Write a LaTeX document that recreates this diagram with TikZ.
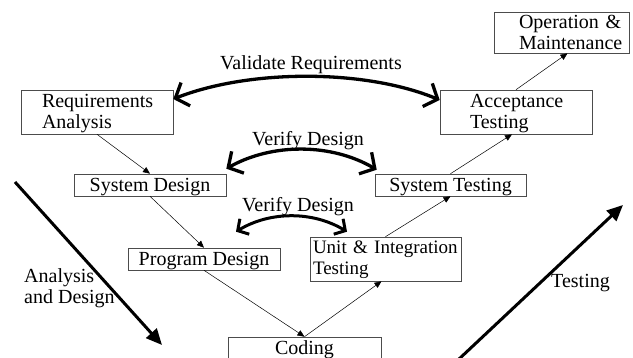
\documentclass[tikz,border=0pt]{standalone}
\usepackage{fontspec}
\setmainfont{Liberation Serif}
\usetikzlibrary{arrows.meta}
\begin{document}
\begin{tikzpicture}[x=1pt,y=-1pt,
  every node/.style={font=\fontsize{20}{21}\selectfont},
  box/.style={draw=black!70, line width=0.6pt, rectangle, inner sep=0pt},
  onebox/.style={box, minimum height=22pt, align=center, text height=14pt, text depth=0pt},
  twobox/.style={box, align=left},
  flow/.style={line width=0.5pt, -{Triangle[length=7pt,width=6pt]}},
  verif/.style={line width=3.3pt, {Straight Barb[length=11pt,width=25pt]}-{Straight Barb[length=11pt,width=25pt]}},
  verifsmall/.style={line width=3pt, {Straight Barb[length=8pt,width=18pt]}-{Straight Barb[length=8pt,width=18pt]}},
  phase/.style={line width=3pt, -{Triangle[length=16pt,width=14pt]}},
  lbl/.style={inner sep=0pt, anchor=base west}]
\useasboundingbox (0,0) rectangle (633,358);
% boxes
\node[twobox, minimum width=152pt, minimum height=44pt, text width=110pt, text depth=21.3pt] (req) at (97,112) {Requirements\\Analysis};
\node[onebox, minimum width=152pt] (sysd) at (150,185) {System Design};
\node[onebox, minimum width=152pt] (progd) at (204,259) {Program Design};
\node[onebox, minimum width=153pt] (coding) at (304.5,348) {Coding};
\node[twobox, minimum width=151pt, minimum height=44pt, text width=145pt, text depth=23pt, font=\fontsize{19}{21}\selectfont] (unit) at (385.5,259) {\mbox{Unit \& Integration}\\Testing};
\node[onebox, minimum width=151pt] (syst) at (450.5,185) {System Testing};
\node[twobox, minimum width=152pt, minimum height=44pt, text width=92pt, text depth=21.3pt] (acc) at (516,112) {Acceptance\\Testing};
\node[twobox, minimum width=135pt, minimum height=41pt, text width=85pt] (op) at (561.5,32.5) {\mbox{Operation \&}\\\mbox{Maintenance}};
% flow arrows
\draw[flow] (req.south) -- (sysd.north);
\draw[flow] (sysd.south) -- (progd.north);
\draw[flow] (progd.south) -- (coding.north);
\draw[flow] (coding.north) -- ([xshift=-4pt]unit.south);
\draw[flow] (unit.north) -- (syst.south);
\draw[flow] (syst.north) -- ([xshift=-4pt]acc.south);
\draw[flow] (acc.north) -- ([xshift=6pt]op.south);
% verification arcs
\draw[verif] ([yshift=13pt]req.east) .. controls (250,69) and (365,69) .. ([yshift=12pt]acc.west);
\draw[verif] ([yshift=5pt]sysd.north east) .. controls (272,143) and (331,143) .. ([shift={(2pt,4pt)}]syst.north west);
\draw[verifsmall] ([shift={(32pt,16pt)}]progd.north) .. controls (270,211) and (313,211) .. ([shift={(-38.5pt,5pt)}]unit.north);
% phase arrows
\coordinate (adS) at (15,182);
\coordinate (adE) at (162,345);
\draw[phase] (adS) -- (adE);
\coordinate (tS) at (458,360);
\coordinate (tE) at (623,205);
\draw[phase] (tS) -- (tE);
% labels
\node[lbl] (valT) at (220,70) {Validate Requirements};
\node[lbl] (ver1T) at (252,146) {Verify Design};
\node[lbl] (ver2T) at (242,212) {Verify Design};
\node[lbl, align=left] (adT) at (24,304) {Analysis\\and Design};
\node[lbl] (tT) at (551,288) {Testing};
\end{tikzpicture}
\end{document}
